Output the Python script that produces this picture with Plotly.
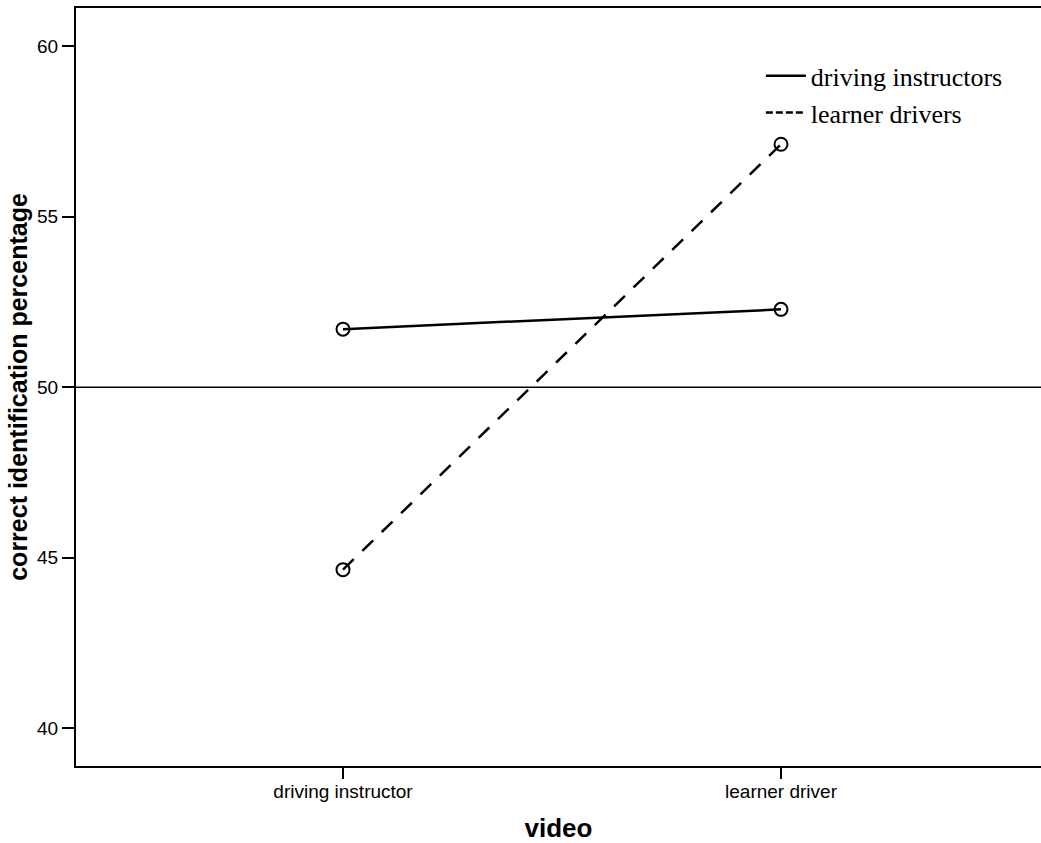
import plotly.graph_objects as go

categories = ["driving instructor", "learner driver"]
instructors = [51.70, 52.28]
learners = [44.65, 57.12]
series_names = ["driving instructors", "learner drivers"]
y_ticks = [40, 45, 50, 55, 60]
reference_level = 50

fig = go.Figure()

marker = dict(symbol="circle-open", size=13, color="black", line=dict(width=2, color="black"))

fig.add_trace(go.Scatter(x=[0, 1], y=instructors, mode="lines+markers",
                         line=dict(color="black", width=2.5), marker=marker,
                         showlegend=False, hoverinfo="skip"))
fig.add_trace(go.Scatter(x=[0, 1], y=learners, mode="lines+markers",
                         line=dict(color="black", width=2.5, dash="15px,12px"), marker=marker,
                         showlegend=False, hoverinfo="skip"))

# legend-only entries (line samples)
fig.add_trace(go.Scatter(x=[None], y=[None], mode="lines", name=series_names[0],
                         legendgroup="a", line=dict(color="black", width=2.5)))
fig.add_trace(go.Scatter(x=[None], y=[None], mode="lines", name=series_names[1],
                         legendgroup="b", line=dict(color="black", width=2.5, dash="7px,3px")))

fig.add_shape(type="line", xref="paper", x0=0, x1=1, yref="y",
              y0=reference_level, y1=reference_level,
              line=dict(color="black", width=1.5))

fig.update_layout(
    width=1041, height=843,
    margin=dict(l=76, r=0, t=8, b=77),
    plot_bgcolor="white", paper_bgcolor="white",
    font=dict(family="Liberation Sans, Arial", color="black"),
    legend=dict(x=0.7097, y=0.9415, xanchor="left", yanchor="top",
                font=dict(family="Liberation Serif, Times New Roman", size=26, color="black"),
                bgcolor="rgba(0,0,0,0)", tracegroupgap=0, itemwidth=40),
    xaxis=dict(range=[-0.6096, 1.5936], tickmode="array", tickvals=[0, 1], ticktext=categories,
               showline=True, linecolor="black", linewidth=2, mirror=True,
               ticks="outside", ticklen=11, tickwidth=2, tickcolor="black",
               ticklabelstandoff=-4, automargin=False,
               showgrid=False, zeroline=False,
               tickfont=dict(size=19, family="Liberation Sans, Arial", color="black"),
               title=dict(text="<b>video</b>", font=dict(size=26, family="Liberation Sans, Arial"), standoff=27)),
    yaxis=dict(range=[38.894, 61.114], tickvals=y_ticks,
               showline=True, linecolor="black", linewidth=2, mirror=False,
               ticks="outside", ticklen=12, tickwidth=2, tickcolor="black",
               automargin=False,
               showgrid=False, zeroline=False,
               tickfont=dict(size=19, family="Liberation Sans, Arial", color="black"),
               title=dict(text="<b>correct identification percentage</b>",
                          font=dict(size=25, family="Liberation Sans, Arial"), standoff=2)),
)

fig.write_html("out.html", config={"displayModeBar": False},
               post_script="document.body.style.margin='0';")
